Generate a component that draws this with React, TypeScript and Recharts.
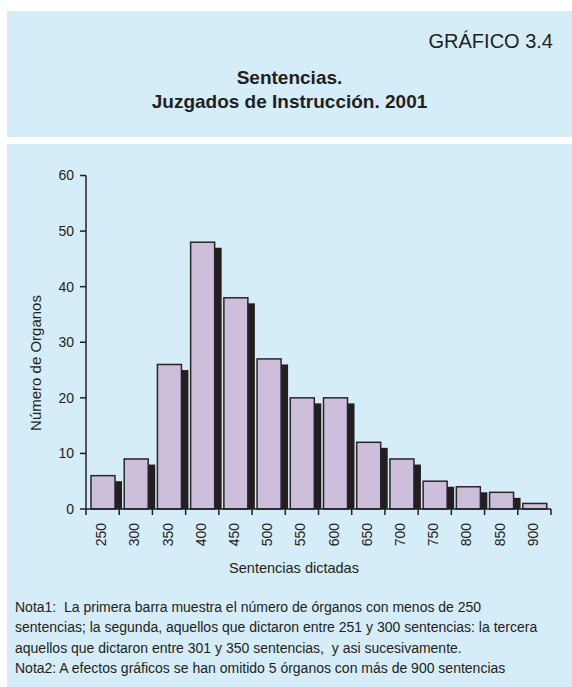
import React from 'react';
import { BarChart, Bar, XAxis, YAxis } from 'recharts';

const categorias = ['250', '300', '350', '400', '450', '500', '550', '600', '650', '700', '750', '800', '850', '900'];
const organos = [6, 9, 26, 48, 38, 27, 20, 20, 12, 9, 5, 4, 3, 1];
const sombra = [5, 8, 25, 47, 37, 26, 19, 19, 11, 8, 4, 3, 2, 0];
const yTicks = [0, 10, 20, 30, 40, 50, 60];

const data = categorias.map((c, i) => ({ cat: c, organos: organos[i], sombra: sombra[i] }));

const W = 572;
const H = 687;
const PLOT_LEFT = 86;
const PLOT_RIGHT = 551;
const PLOT_TOP = 175.5;
const PLOT_BOTTOM = 509;
const BAND = (PLOT_RIGHT - PLOT_LEFT) / categorias.length;
const BAR_SIZE = 24;
const INK = '#231f20';
const FONT = '"Liberation Sans", Arial, Helvetica, sans-serif';

const ShadowShape = (props: any) => {
  const { x, y, width, height } = props;
  if (!height || height <= 0) return null;
  return <rect x={x + 7} y={y} width={width} height={height} fill={INK} />;
};

const MainShape = (props: any) => {
  const { x, y, width, height } = props;
  if (!height || height <= 0) return null;
  return (
    <rect x={x} y={y} width={width} height={height} fill="#cdbfdc" stroke="#2a2627" strokeWidth={1.5} />
  );
};

const XTick = (props: any) => {
  const { x, y, payload, index } = props;
  const axisY = PLOT_BOTTOM;
  return (
    <g>
      <line x1={x - BAND / 2} x2={x - BAND / 2} y1={axisY} y2={axisY + 6} stroke={INK} strokeWidth={1.5} />
      {index === categorias.length - 1 && (
        <line x1={x + BAND / 2} x2={x + BAND / 2} y1={axisY} y2={axisY + 6} stroke={INK} strokeWidth={1.5} />
      )}
      <text
        x={x - 1.5}
        y={y}
        transform={`rotate(-90, ${x - 1.5}, ${y})`}
        textAnchor="end"
        dominantBaseline="central"
        fontSize={14}
        fontFamily={FONT}
        fill={INK}
      >
        {payload.value}
      </text>
    </g>
  );
};

export default function App() {
  return (
    <div style={{ position: 'absolute', left: 0, top: 0, width: W, height: H, background: '#ffffff', fontFamily: FONT, color: INK }}>
      <div style={{ position: 'absolute', left: 7, top: 11, width: W - 7, height: 126, background: '#d5ecf9' }} />
      <div style={{ position: 'absolute', left: 7, top: 144, width: W - 7, height: H - 144, background: '#d5ecf9' }} />

      <div style={{ position: 'absolute', right: 19, top: 29, fontSize: 20, lineHeight: '24px', whiteSpace: 'nowrap' }}>GRÁFICO 3.4</div>
      <div style={{ position: 'absolute', left: 7, width: W - 7, top: 66, fontSize: 19, fontWeight: 'bold', lineHeight: '24px', textAlign: 'center', whiteSpace: 'nowrap' }}>
        <div>Sentencias.</div>
        <div>Juzgados de Instrucción. 2001</div>
      </div>

      <div style={{ position: 'absolute', left: 0, top: 0 }}>
        <BarChart
          width={W}
          height={H}
          data={data}
          barGap={-BAR_SIZE}
          margin={{ top: PLOT_TOP, right: W - PLOT_RIGHT, bottom: H - PLOT_BOTTOM - 60, left: PLOT_LEFT - 60 }}
        >
          <XAxis
            dataKey="cat"
            height={60}
            interval={0}
            tickLine={false}
            tickSize={6}
            tickMargin={8}
            axisLine={{ stroke: INK, strokeWidth: 1.5 }}
            tick={<XTick />}
          />
          <YAxis
            width={60}
            domain={[0, 60]}
            ticks={yTicks}
            interval={0}
            tickSize={6}
            tickMargin={6}
            axisLine={{ stroke: INK, strokeWidth: 1.5 }}
            tickLine={{ stroke: INK, strokeWidth: 1.5 }}
            tick={{ fill: INK, fontSize: 14, fontFamily: FONT }}
          />
          <Bar dataKey="sombra" barSize={BAR_SIZE} isAnimationActive={false} shape={<ShadowShape />} />
          <Bar dataKey="organos" barSize={BAR_SIZE} isAnimationActive={false} shape={<MainShape />} />
        </BarChart>
      </div>

      <div style={{ position: 'absolute', left: 36 - 100, top: 363 - 10, width: 200, height: 20, lineHeight: '20px', textAlign: 'center', fontSize: 15, transform: 'rotate(-90deg)', whiteSpace: 'nowrap' }}>
        Número de Organos
      </div>
      <div style={{ position: 'absolute', left: 294 - 100, top: 558, width: 200, lineHeight: '20px', textAlign: 'center', fontSize: 14.5, whiteSpace: 'nowrap' }}>
        Sentencias dictadas
      </div>

      <div style={{ position: 'absolute', left: 15, top: 597, fontSize: 14, lineHeight: '20.3px', whiteSpace: 'nowrap' }}>
        <div>Nota1:&nbsp; La primera barra muestra el número de órganos con menos de 250</div>
        <div>sentencias; la segunda, aquellos que dictaron entre 251 y 300 sentencias: la tercera</div>
        <div>aquellos que dictaron entre 301 y 350 sentencias,&nbsp; y asi sucesivamente.</div>
        <div>Nota2: A efectos gráficos se han omitido 5 órganos con más de 900 sentencias</div>
      </div>
    </div>
  );
}
